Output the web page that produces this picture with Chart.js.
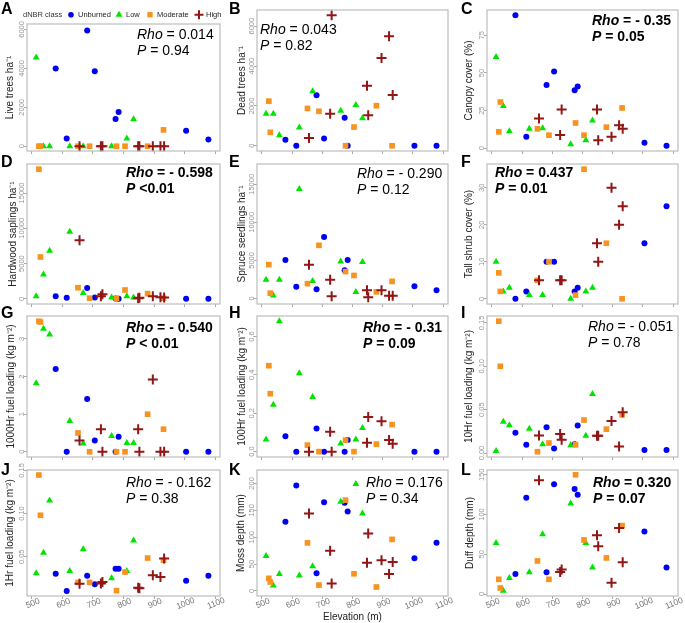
<!DOCTYPE html>
<html>
<head>
<meta charset="utf-8">
<script src="https://cdn.jsdelivr.net/npm/chart.js@4"></script>
<style>
html, body { margin: 0; padding: 0; background: #fff; }
#wrap { position: relative; width: 685px; height: 623px; overflow: hidden; background: #fff; }
#wrap canvas { position: absolute; }
</style>
</head>
<body>
<div id="wrap"></div>
<script>
// ---------------- DATA ----------------
const classNames = ['Unburned', 'Low', 'Moderate', 'High'];
const siteClass = [0,0,0,0,0,0,0,0, 1,1,1,1,1,1,1,1, 2,2,2,2,2,2,2,2, 3,3,3,3,3,3,3,3];
const elevation = [578,614,681,706,774,784,1005,1078, 514,538,558,624,668,761,811,833, 523,528,651,689,777,805,879,931, 656,726,731,848,852,896,921,933];
const xTickLabels = ['500','600','700','800','900','1000','1100'];

const liveTrees = [4000,400,5950,3850,1400,1760,790,340, 4560,0,0,0,0,0,400,1380, 0,0,0,0,0,0,0,840, 0,0,0,0,0,0,0,0];
const deadTrees = [300,0,2530,360,1410,0,0,0, 1610,1610,530,920,2730,1760,2040,1380, 2240,675,1875,1730,0,940,2010,0, 395,1610,6550,3010,1530,4410,5500,2550];
const canopyCover = [88.3,7.6,42,51,38.6,41,3.7,1.7, 60.6,28,11.3,13,13.3,2.6,5.4,18.5, 10.9,30.7,12.9,8.7,16.8,8.7,14,26.8, 19.8,8.9,25.7,25.7,5.4,7.6,15.3,12.9];
const hardwoodSaplings = [370,140,1530,185,50,0,0,0, 370,3430,6800,9500,830,185,370,185, 18380,5930,1570,90,90,1250,740,90, 8290,370,650,90,140,370,230,185];
const spruceSeedlings = [5040,1550,1200,8060,3700,5040,1600,1080, 2460,390,2460,14400,2280,4870,860,4780, 4440,690,1940,6980,3530,3020,860,2240, 4440,2460,300,1080,170,1080,345,345];
const tallShrubCover = [0,2,10,10,2,3,15,25, 10,2,3,1,1,0,2,3, 7,2,5,10,1,35,15,0, 5,5,5,15,10,30,20,25];
const fuel1000 = [2.2,0,1.4,0.3,0,0.4,0,0, 1.82,3.27,3.12,0.82,0.22,0.42,0.23,0.23, 3.47,3.45,0.5,0,0,0,1.0,0.6, 0.3,0.6,0,0.6,0,1.92,0,0];
const fuel100 = [0.08,0,0.12,0,0,0.06,0,0, 0.063,0.244,0.68,0.408,0.285,0.043,0.063,0.123, 0.448,0.302,0.034,0,0.06,0,0.039,0.141, 0,0.104,0,0.046,0.18,0.158,0.06,0.041];
const fuel10 = [0.0233,0.0095,0.0298,0.0053,0.0100,0.0317,0.0034,0.0034, 0.0023,0.036,0.032,0.028,0.010,0.009,0.020,0.068, 0.152,0.100,0.0015,0.0115,0.0095,0.038,0.0275,0.044, 0.0202,0.0218,0.0153,0.0198,0.0198,0.037,0.0076,0.047];
const fuel1 = [0.0304,0.0104,0.028,0.0181,0.036,0.036,0.0223,0.028, 0.031,0.0546,0.115,0.0335,0.0588,0.025,0.0335,0.0688, 0.1446,0.098,0.0204,0.0204,0.0108,0.0323,0.0485,0.046, 0.0188,0.0192,0.0208,0.0142,0.0135,0.0285,0.0265,0.048];
const mossDepth = [129,196,33,165,164,148,61,89.5, 65,10,31.5,29,46,166,199,144, 23.5,16.7,89.5,11,169,32,7.4,96, 144,75,14,52.5,107,57,31.5,54];
const duffDepth = [25.2,121,27.3,138,132,125,78.6,33.2, 64.3,4.2,20.2,27.3,75.2,114,64.3,33.2, 18.5,7.6,41.6,18.5,150,68,45.4,86, 143,27.7,30.7,74,60,14.3,83,40];

const liveTreesTicks = ['0','2000','4000','6000'];
const deadTreesTicks = ['0','2000','4000','6000'];
const canopyTicks = ['0','25','50','75'];
const saplingTicks = ['0','5000','10000','15000'];
const seedlingTicks = ['0','5000','10000','15000'];
const shrubTicks = ['0','10','20','30'];
const fuel1000Ticks = ['0','1','2','3'];
const fuel100Ticks = ['0.0','0.2','0.4','0.6'];
const fuel10Ticks = ['0.00','0.05','0.10','0.15'];
const fuel1Ticks = ['0.05','0.10','0.15'];
const mossTicks = ['0','50','100','150','200'];
const duffTicks = ['0','50','100','150'];

const panelLetters = ['A','B','C','D','E','F','G','H','I','J','K','L'];
const rhoValues = ['0.014','0.043','- 0.35','- 0.598','- 0.290','0.437','- 0.540','- 0.31','- 0.051','- 0.162','0.176','0.320'];
const pValues = ['= 0.94','= 0.82','= 0.05','<0.01','= 0.12','= 0.01','< 0.01','= 0.09','= 0.78','= 0.38','= 0.34','= 0.07'];
const significant = [false,false,true,true,false,true,true,true,false,false,false,true];

// ---------------- LAYOUT / STYLE ----------------
const FONT = '"Liberation Sans", Arial, Helvetica, sans-serif';
Chart.defaults.font.family = FONT;

const panels = [
  {values: liveTrees, ticks: liveTreesTicks, title: 'Live trees ha\u207B\u00B9', min: -245, max: 6280, ann: [137, 35], titleX: 10},
  {values: deadTrees, ticks: deadTreesTicks, title: 'Dead trees ha\u207B\u00B9', min: -262, max: 6812, ann: [260, 30], titleX: 14},
  {values: canopyCover, ticks: canopyTicks, title: 'Canopy cover (%)', min: -1.8, max: 91.8, ann: [592, 21], titleX: 13},
  {values: hardwoodSaplings, ticks: saplingTicks, title: 'Hardwood saplings ha\u207B\u00B9', min: -735, max: 19115, ann: [126, 173], titleX: 13},
  {values: spruceSeedlings, ticks: seedlingTicks, title: 'Spruce seedlings ha\u207B\u00B9', min: -733, max: 17670, ann: [357, 174], titleX: 14},
  {values: tallShrubCover, ticks: shrubTicks, title: 'Tall shrub cover (%)', min: -1.4, max: 36.4, ann: [495, 173], titleX: 13},
  {values: fuel1000, ticks: fuel1000Ticks, title: '1000Hr fuel loading (kg m\u207B\u00B2)', min: -0.139, max: 3.61, ann: [126, 328], titleX: 11},
  {values: fuel100, ticks: fuel100Ticks, title: '100Hr fuel loading (kg m\u207B\u00B2)', min: -0.028, max: 0.707, ann: [363, 328], titleX: 14},
  {values: fuel10, ticks: fuel10Ticks, title: '10Hr fuel loading (kg m\u207B\u00B2)', min: -0.0046, max: 0.158, ann: [588, 327], titleX: 13},
  {values: fuel1, ticks: fuel1Ticks, title: '1Hr fuel loading (kg m\u207B\u00B2)', min: 0.0046, max: 0.1504, ann: [126, 483], titleX: 10},
  {values: mossDepth, ticks: mossTicks, title: 'Moss depth (mm)', min: -9.3, max: 225, ann: [366, 483], titleX: 13},
  {values: duffDepth, ticks: duffTicks, title: 'Duff depth (mm)', min: -2.5, max: 156, ann: [593, 483], titleX: 14}
];

const cols = [
  {left: 0, w: 228, plotLeft: 27, plotRight: 220, letterX: 1},
  {left: 228, w: 228, plotLeft: 29, plotRight: 220, letterX: 229},
  {left: 456, w: 229, plotLeft: 31, plotRight: 222, letterX: 461}
];
const rows = [
  {top: 0, h: 158, plotTop: 10, plotBottom: 154, letterY: 13.5},
  {top: 155, h: 156, plotTop: 164, plotBottom: 307, letterY: 167},
  {top: 306, h: 158, plotTop: 316, plotBottom: 460, letterY: 318},
  {top: 462, h: 161, plotTop: 470, plotBottom: 596, letterY: 475, bottom: true}
];

const classStyle = [
  {pointStyle: 'circle', radius: 3, color: '#0000f2', borderWidth: 0},
  {pointStyle: 'triangle', radius: 4, color: '#00e400', borderWidth: 0},
  {pointStyle: 'rect', radius: 4, color: '#f7931e', borderWidth: 0},
  {pointStyle: 'cross', radius: 5, color: '#921616', borderWidth: 2}
];
const legendLayout = {titleX: 23, y: 14.7, centers: [71, 119, 150, 199], textGap: 7,
  markerRadius: [2.8, 4, 3.8, 4.5]};

function drawMarker(ctx, style, r, x, y) {
  ctx.fillStyle = style.color;
  ctx.strokeStyle = style.color;
  ctx.lineWidth = style.borderWidth || 1;
  ctx.beginPath();
  if (style.pointStyle === 'circle') {
    ctx.arc(x, y, r, 0, Math.PI * 2); ctx.fill();
  } else if (style.pointStyle === 'triangle') {
    for (let k = 0; k < 3; k++) {
      const ang = k * 2 * Math.PI / 3;
      const px = x + Math.sin(ang) * r, py = y - Math.cos(ang) * r;
      if (k === 0) ctx.moveTo(px, py); else ctx.lineTo(px, py);
    }
    ctx.closePath(); ctx.fill();
  } else if (style.pointStyle === 'rect') {
    const s = r * Math.SQRT1_2;
    ctx.rect(x - s, y - s, 2 * s, 2 * s); ctx.fill();
  } else {
    ctx.moveTo(x - r, y); ctx.lineTo(x + r, y);
    ctx.moveTo(x, y - r); ctx.lineTo(x, y + r);
    ctx.stroke();
  }
}

function drawRuns(ctx, runs, x, y, size) {
  let cx = x;
  runs.forEach(r => {
    ctx.font = (r.italic ? 'italic ' : '') + (r.bold ? 'bold ' : '') + size + 'px ' + FONT;
    ctx.fillText(r.text, cx, y);
    cx += ctx.measureText(r.text).width;
  });
}

const wrap = document.getElementById('wrap');

panels.forEach((p, i) => {
  const col = cols[i % 3];
  const row = rows[Math.floor(i / 3)];
  const hasLegend = i === 0;
  const canvas = document.createElement('canvas');
  canvas.width = col.w; canvas.height = row.h;
  canvas.style.left = col.left + 'px';
  canvas.style.top = row.top + 'px';
  canvas.style.width = col.w + 'px';
  canvas.style.height = row.h + 'px';
  wrap.appendChild(canvas);

  const plotTop = (hasLegend ? 24 : row.plotTop) - row.top;
  const plotBottom = row.plotBottom - row.top;
  const xH = row.bottom ? (row.h - plotBottom) : 4;
  const padBottom = row.h - plotBottom - xH;

  const datasets = classNames.map((name, c) => ({
    label: name,
    data: elevation.map((x, k) => ({x: x, y: p.values[k], c: siteClass[k]})).filter(d => d.c === c),
    pointStyle: classStyle[c].pointStyle,
    pointRadius: classStyle[c].radius,
    pointHoverRadius: classStyle[c].radius,
    backgroundColor: classStyle[c].color,
    borderColor: classStyle[c].color,
    borderWidth: classStyle[c].borderWidth,
    pointBorderWidth: classStyle[c].borderWidth,
    showLine: false,
    clip: false,
    order: 4 - c
  }));

  const decor = {
    id: 'decor' + i,
    afterDraw(chart) {
      const ctx = chart.ctx;
      const a = chart.chartArea;
      ctx.save();
      // box
      ctx.strokeStyle = '#bdbdbd';
      ctx.lineWidth = 1.2;
      ctx.strokeRect(a.left, a.top, a.right - a.left, a.bottom - a.top);
      // y tick labels (rotated)
      const ys = chart.scales.y;
      ctx.fillStyle = '#959595';
      ctx.font = '7.5px ' + FONT;
      ctx.textAlign = 'center';
      ctx.textBaseline = 'middle';
      p.ticks.forEach(t => {
        const py = ys.getPixelForValue(Number(t));
        ctx.save();
        ctx.translate(a.left - 5.5, py);
        ctx.rotate(-Math.PI / 2);
        ctx.fillText(t, 0, 0);
        ctx.restore();
      });
      // x tick labels on bottom row
      if (row.bottom) {
        const xs = chart.scales.x;
        ctx.fillStyle = '#777';
        ctx.font = '8.5px ' + FONT;
        xTickLabels.forEach(t => {
          const px = xs.getPixelForValue(Number(t));
          ctx.save();
          ctx.translate(px + 1, a.bottom + 7.5);
          ctx.rotate(-22 * Math.PI / 180);
          ctx.fillText(t, 0, 0);
          ctx.restore();
        });
      }
      // panel letter
      ctx.fillStyle = '#000';
      ctx.textAlign = 'left';
      ctx.textBaseline = 'alphabetic';
      ctx.font = 'bold 16px ' + FONT;
      ctx.fillText(panelLetters[i], col.letterX - col.left, row.letterY - row.top);
      // Rho / P annotation
      ctx.textBaseline = 'middle';
      const sig = significant[i];
      const ax = p.ann[0] - col.left, ay = p.ann[1] - row.top;
      drawRuns(ctx, [{text: 'Rho', italic: true, bold: sig}, {text: ' = ' + rhoValues[i], bold: sig}], ax, ay, 14);
      drawRuns(ctx, [{text: 'P', italic: true, bold: sig}, {text: ' ' + pValues[i], bold: sig}], ax, ay + 16.5, 14);
      // legend
      if (hasLegend) {
        ctx.fillStyle = '#333';
        ctx.font = '7.5px ' + FONT;
        ctx.fillText('dNBR class', legendLayout.titleX, legendLayout.y);
        chart.data.datasets.forEach((ds, c) => {
          const cx = legendLayout.centers[c];
          drawMarker(ctx, classStyle[c], legendLayout.markerRadius[c], cx, legendLayout.y);
          ctx.fillStyle = '#222';
          ctx.font = '7.5px ' + FONT;
          ctx.fillText(ds.label, cx + legendLayout.textGap, legendLayout.y);
        });
      }
      ctx.restore();
    }
  };

  new Chart(canvas, {
    type: 'scatter',
    data: {datasets: datasets},
    options: {
      responsive: false,
      animation: false,
      events: [],
      layout: {padding: {left: 0, right: col.w - col.plotRight, top: plotTop, bottom: padBottom}},
      plugins: {legend: {display: false}, tooltip: {enabled: false}},
      scales: {
        x: {
          type: 'linear', position: 'bottom', min: 484, max: 1116, bounds: 'data',
          afterBuildTicks: s => { s.ticks = xTickLabels.map(t => ({value: Number(t)})); },
          afterFit: s => { s.height = xH; },
          ticks: {display: false},
          grid: {drawOnChartArea: false, drawTicks: true, tickLength: 3, color: '#a8a8a8', lineWidth: 1},
          border: {display: false},
          title: {display: i === 10, text: 'Elevation (m)', color: '#222', font: {size: 10}, padding: {top: 0, bottom: 0}}
        },
        y: {
          type: 'linear', position: 'left', min: p.min, max: p.max, bounds: 'data',
          afterBuildTicks: s => { s.ticks = p.ticks.map(t => ({value: Number(t)})); },
          afterFit: s => { s.width = col.plotLeft; },
          ticks: {display: false},
          grid: {drawOnChartArea: false, drawTicks: true, tickLength: 3, color: '#a8a8a8', lineWidth: 1},
          border: {display: false},
          title: {display: true, text: p.title, color: '#222', font: {size: 10}, padding: {top: p.titleX - 6, bottom: 0}}
        }
      }
    },
    plugins: [decor]
  });
});
</script>
</body>
</html>
